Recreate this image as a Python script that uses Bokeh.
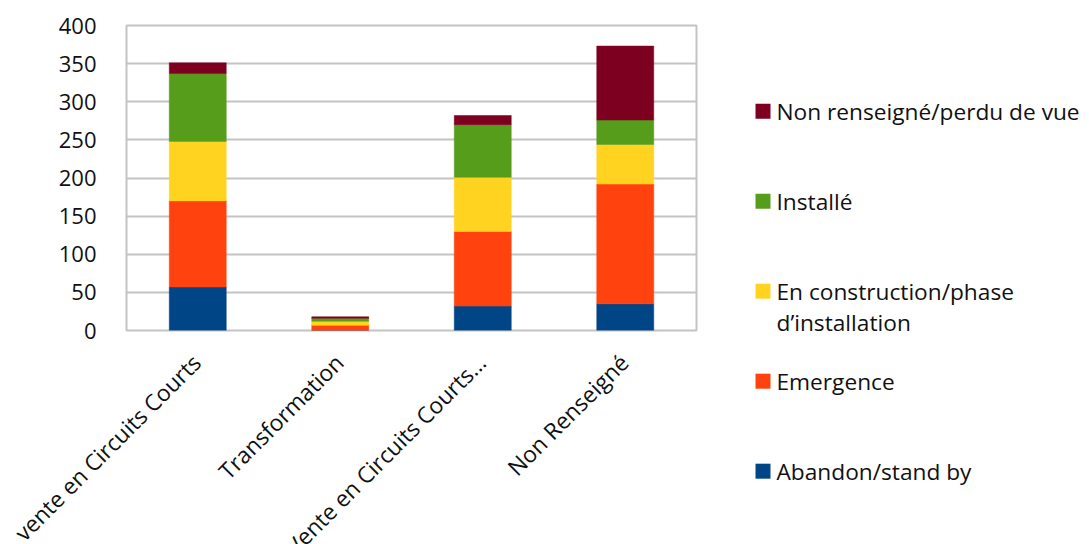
import math
from bokeh.plotting import figure
from bokeh.models import (Range1d, SingleIntervalTicker, ColumnDataSource, LinearScale)
from bokeh.embed import file_html
from bokeh.resources import INLINE
from bokeh.core.properties import value

categories = ["vente en Circuits Courts", "Transformation",
              "Vente en Circuits Courts…", "Non Renseigné"]
series_names = ["Abandon/stand by", "Emergence",
                "En construction/phase\nd’installation", "Installé",
                "Non renseigné/perdu de vue"]
series_keys = ["abandon", "emergence", "construction", "installe", "non_renseigne"]
abandon = [57, 0, 32, 35]
emergence = [113, 7, 98, 157]
construction = [78, 5, 71, 52]
installe = [89, 4, 69, 32]
non_renseigne = [14, 2, 12, 97]
colors = ["#004586", "#ff420e", "#ffd320", "#579d1c", "#7e0021"]
y_ticks_interval = 50
y_max = 400

FONT = "Open Sans"
FS = "22px"
FS_TXT = "22.7px"
TXT = "#111111"
GRID = "#c4c4c4"

n = len(categories)
# category slots: category i is centred at i + 0.5 on a 0..n axis
xpos = [i + 0.5 for i in range(n)]
src = ColumnDataSource(dict(x=xpos, cat=categories, abandon=abandon,
                            emergence=emergence, construction=construction,
                            installe=installe, non_renseigne=non_renseigne))

W, H = 1089, 544
LEFT, TOP, FRAME_R, FRAME_B = 126, 25, 696, 330

# ---------------- main chart ----------------
p = figure(x_range=Range1d(0, n), y_range=Range1d(0, y_max),
           width=FRAME_R + 2, height=H, output_backend="svg", toolbar_location=None,
           min_border_left=LEFT, min_border_right=2, min_border_top=TOP,
           min_border_bottom=H - FRAME_B)
p.vbar_stack(series_keys, x="x", width=0.4, source=src, color=colors,
             line_color=colors, line_width=0.5)

p.outline_line_color = GRID
p.outline_line_width = 2
p.xgrid.grid_line_color = None
p.ygrid.grid_line_color = GRID
p.ygrid.grid_line_width = 2

p.xaxis.visible = False
p.yaxis.ticker = SingleIntervalTicker(interval=y_ticks_interval)
p.yaxis.axis_line_color = None
p.yaxis.major_tick_line_color = None
p.yaxis.minor_tick_line_color = None
p.yaxis.major_tick_in = 0
p.yaxis.major_tick_out = 0
p.yaxis.major_label_text_font = FONT
p.yaxis.major_label_text_font_size = FS
p.yaxis.major_label_text_color = TXT
p.yaxis.major_label_standoff = 26
p.styles = {"position": "absolute", "left": "0px", "top": "0px"}

# ---------------- overlay: category labels + legend ----------------
slot_px = (FRAME_R - LEFT) / n
ov = figure(width=W, height=H, output_backend="svg", toolbar_location=None,
            x_range=Range1d(-LEFT / slot_px, (W - LEFT) / slot_px),  # same mapping as main x
            y_range=Range1d(H, 0),                                  # page pixels, downwards
            x_axis_type=None, y_axis_type=None, min_border=0)
ov.extra_x_ranges = {"px": Range1d(0, W)}
ov.extra_x_scales = {"px": LinearScale()}
ov.background_fill_color = None
ov.border_fill_color = None
ov.outline_line_color = None
ov.grid.grid_line_color = None
ov.styles = {"position": "absolute", "left": "0px", "top": "0px"}

ov.text(x=xpos, y=[FRAME_B + 28] * n, text=categories, angle=math.pi / 4,
        x_offset=-1, text_align="right", text_baseline="middle",
        text_font=value(FONT), text_font_size=FS_TXT, text_color=TXT)

order = list(range(len(series_names)))[::-1]
sw_y, sw_c, tx, ty, tt = [], [], [], [], []
for slot, i in enumerate(order):
    yc = 110.7 + slot * 90
    sw_y.append(yc)
    sw_c.append(colors[i])
    for k, line in enumerate(series_names[i].split("\n")):
        ty.append(yc + k * 31)
        tt.append(line)
ov.rect(x=[762.5] * len(sw_y), y=sw_y, width=15, height=15, color=sw_c,
        line_color=None, x_range_name="px")
ov.text(x=[776] * len(tt), y=ty, text=tt, x_range_name="px",
        text_font=value(FONT), text_font_size=FS_TXT, text_color=TXT,
        text_align="left", text_baseline="middle")

open("out.html", "w").write(file_html([p, ov], INLINE))
